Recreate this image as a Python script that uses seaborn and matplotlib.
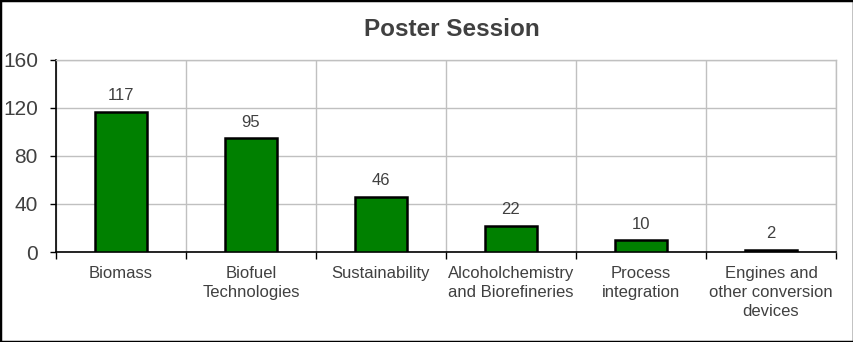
import matplotlib
matplotlib.use("Agg")
import matplotlib.pyplot as plt
import seaborn as sns
import pandas as pd
from matplotlib.patches import Rectangle

categories = ["Biomass", "Biofuel\nTechnologies", "Sustainability",
              "Alcoholchemistry\nand Biorefineries", "Process\nintegration",
              "Engines and\nother conversion\ndevices"]
counts = [117, 95, 46, 22, 10, 2]
y_ticks = [0, 40, 80, 120, 160]

sns.set_theme(style="white")
plt.rcParams["font.family"] = ["Liberation Sans", "DejaVu Sans"]

df = pd.DataFrame({"topic": categories, "count": counts})

fig = plt.figure(figsize=(8.54, 3.42), dpi=100)
ax = fig.add_axes([56 / 854, 1 - 252 / 342, 780 / 854, 192 / 342])

sns.barplot(data=df, x="topic", y="count", color="#008000", width=0.4,
            edgecolor="black", linewidth=1.8, saturation=1, ax=ax, zorder=3)

for i, v in enumerate(counts):
    ax.annotate(str(v), (i, v), xytext=(0, 6), textcoords="offset points",
                ha="center", va="bottom", fontsize=12, color="#404040")

ax.set_ylim(0, 160)
ax.set_xlim(-0.5, len(categories) - 0.5)
ax.set_yticks(y_ticks)
ax.set_xticks(range(len(categories)))
ax.set_xticklabels(categories, fontsize=12, color="#404040", linespacing=1.35)
ax.set_xticks([i - 0.5 for i in range(len(categories) + 1)], minor=True)
ax.tick_params(axis="y", labelsize=15, labelcolor="#404040", left=True,
               length=4, width=1, color="black", pad=9)
ax.tick_params(axis="x", which="major", bottom=False, pad=4)
ax.tick_params(axis="x", which="minor", bottom=True, length=5, width=1,
               color="black")
ax.grid(True, axis="y", color="#c0c0c0", linewidth=1, zorder=0)
ax.grid(True, axis="x", which="minor", color="#c0c0c0", linewidth=1, zorder=0)
ax.set_axisbelow(True)
ax.set_xlabel("")
ax.set_ylabel("")

for side in ("top", "right"):
    ax.spines[side].set_color("#c0c0c0")
    ax.spines[side].set_linewidth(1)
for side in ("left", "bottom"):
    ax.spines[side].set_color("black")
    ax.spines[side].set_linewidth(1.2)

fig.text(452 / 854, 1 - 29 / 342, "Poster Session", ha="center", va="center",
         fontsize=17.5, fontweight="bold", color="#404040")

fig.patches.append(Rectangle((0, 0), 1, 1, transform=fig.transFigure,
                             fill=False, edgecolor="black", linewidth=2.5,
                             zorder=10))

fig.savefig("out.png", dpi=100, facecolor="white")
